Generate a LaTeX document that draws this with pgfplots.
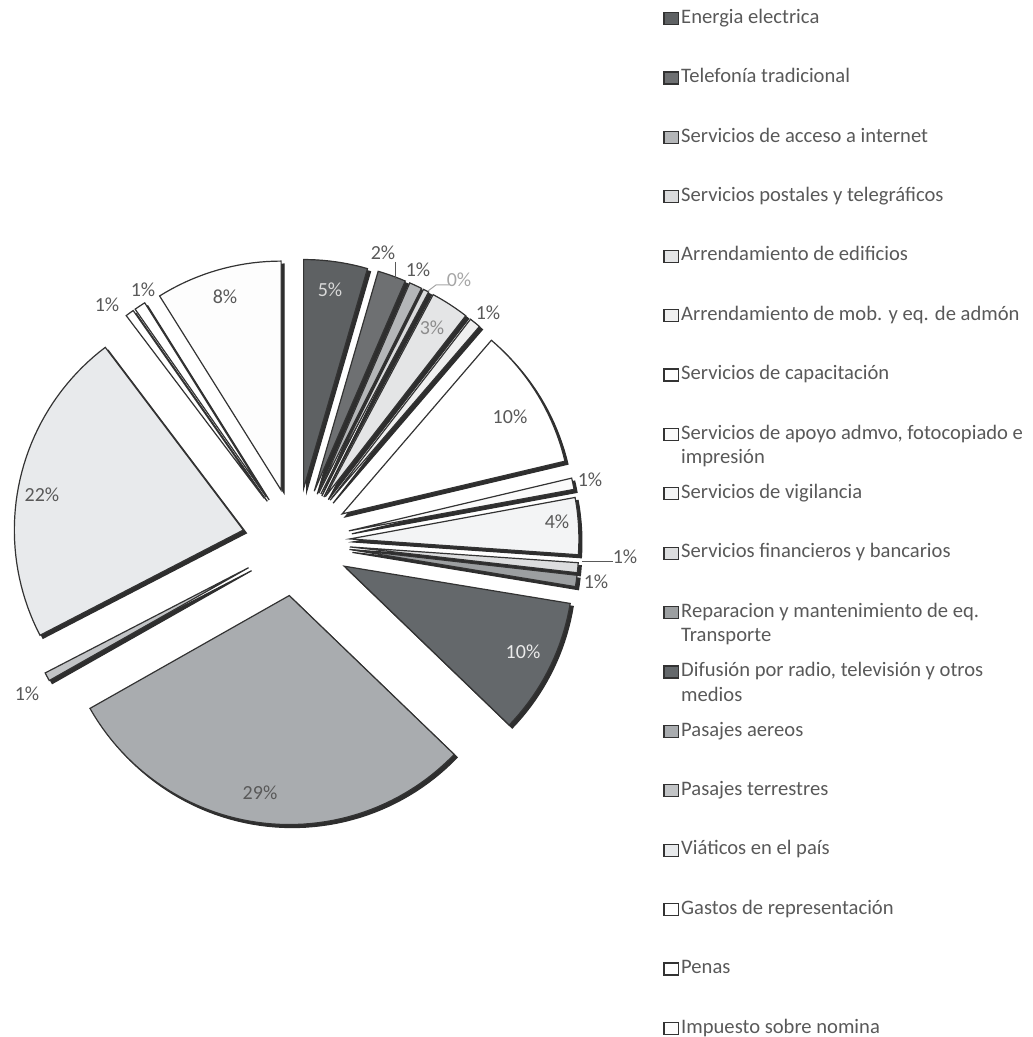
\documentclass[border=0pt]{standalone}
\usepackage{fontspec}
\setmainfont{Carlito}
\usepackage{pgfplots}
\usepackage{pgfplotstable}
\pgfplotsset{compat=1.18}

% share of the circle (per cent), clockwise from 12 o'clock
\pgfplotstableread{
val
4.5
2.0
0.9
0.4
2.7
0.8
10.0
0.8
4.0
0.7
0.8
9.6
29.6
0.6
22.3
0.6
0.8
8.9
}\piedata

\definecolor{txt}{HTML}{595959}
\definecolor{s0}{HTML}{5E6163}
\definecolor{s1}{HTML}{6E7072}
\definecolor{s2}{HTML}{B4B6B8}
\definecolor{s3}{HTML}{DADBDC}
\definecolor{s4}{HTML}{E4E5E6}
\definecolor{s5}{HTML}{F0F0F0}
\definecolor{s6}{HTML}{FFFFFF}
\definecolor{s7}{HTML}{FAFAFA}
\definecolor{s8}{HTML}{F3F4F5}
\definecolor{s9}{HTML}{DCDDDE}
\definecolor{s10}{HTML}{9C9FA1}
\definecolor{s11}{HTML}{64686B}
\definecolor{s12}{HTML}{A9ACAF}
\definecolor{s13}{HTML}{C2C4C6}
\definecolor{s14}{HTML}{E8EAEC}
\definecolor{s15}{HTML}{FFFFFF}
\definecolor{s16}{HTML}{FFFFFF}
\definecolor{s17}{HTML}{FDFDFD}

\pgfplotsset{
  slicestyle/.style={draw=black!80, line width=0.6pt, fill=#1},
}

\begin{document}
\begin{tikzpicture}
\begin{axis}[
  x=0.5pt, y=0.5pt,
  xmin=0, xmax=1032, ymin=0, ymax=1037,
  axis line style={draw=none}, ticks=none, clip=false,
  legend image code/.code={\draw[#1, line width=0.6pt] (0pt,-0.6pt) rectangle (7.3pt,5.4pt);},
  legend cell align=left,
  legend style={
    at={(axis cs:657,1034)}, anchor=north west,
    draw=none, fill=none, text=txt,
    font=\fontsize{10.3}{12.2}\selectfont,
    row sep=5.7pt,
    /tikz/column sep=0pt,
    nodes={text height=7pt, text depth=15pt, inner sep=1pt, anchor=base west},
  },
  legend entries={
    Energia electrica,
    Telefonía tradicional,
    Servicios de acceso a internet,
    Servicios postales y telegráficos,
    Arrendamiento de edificios,
    Arrendamiento de mob. y eq. de admón,
    Servicios de capacitación,
    {\vtop{\hbox{Servicios de apoyo admvo, fotocopiado e}\hbox{impresión}}},
    Servicios de vigilancia,
    Servicios financieros y bancarios,
    {\vtop{\hbox{Reparacion y mantenimiento de eq.}\hbox{Transporte}}},
    {\vtop{\hbox{Difusión por radio, televisión y otros}\hbox{medios}}},
    Pasajes aereos,
    Pasajes terrestres,
    Viáticos en el país,
    Gastos de representación,
    Penas,
    Impuesto sobre nomina},
]
% shadows (3-D edge), drawn first
\pgfmathsetmacro\cum{0}
\pgfplotsforeachungrouped \i in {0,...,17}{
  \pgfplotstablegetelem{\i}{val}\of\piedata
  \let\v\pgfplotsretval
  \pgfmathsetmacro\a{\cum*3.6}
  \pgfmathsetmacro\b{(\cum+\v)*3.6}
  \pgfmathsetmacro\m{(\a+\b)/2}
  \pgfmathsetmacro\ax{296+54*sin(\m)+3}
  \pgfmathsetmacro\ay{495+54*cos(\m)-3}
  \pgfmathtruncatemacro\ns{max(3,(\b-\a)/2+3)}
  \pgfmathsetmacro\cum{\cum+\v}
  \edef\tmp{\noexpand\addplot[forget plot, fill=black!82, draw=black!82, line width=0.6pt, domain=\a:\b, samples=\ns]
    ({\ax+229*sin(x)},{\ay+229*cos(x)}) -- (axis cs:\ax,\ay) -- cycle;}
  \tmp
}
% slices
\pgfmathsetmacro\cum{0}
\pgfplotsforeachungrouped \i in {0,...,17}{
  \pgfplotstablegetelem{\i}{val}\of\piedata
  \let\v\pgfplotsretval
  \pgfmathsetmacro\a{\cum*3.6}
  \pgfmathsetmacro\b{(\cum+\v)*3.6}
  \pgfmathsetmacro\m{(\a+\b)/2}
  \pgfmathsetmacro\ax{296+54*sin(\m)}
  \pgfmathsetmacro\ay{495+54*cos(\m)}
  \pgfmathtruncatemacro\ns{max(3,(\b-\a)/2+3)}
  \pgfmathsetmacro\cum{\cum+\v}
  \edef\tmp{\noexpand\addplot[slicestyle=s\i, domain=\a:\b, samples=\ns]
    ({\ax+229*sin(x)},{\ay+229*cos(x)}) -- (axis cs:\ax,\ay) -- cycle;}
  \tmp
}
% data labels
\tikzset{lbl/.style={font=\fontsize{10}{12}\selectfont, text=txt, inner sep=0pt}}
\node[lbl, text=black!15] at (axis cs:330,747) {5\%};
\node[lbl] at (axis cs:383,784) {2\%};
\draw[txt, line width=0.5pt] (axis cs:395,775) -- (axis cs:395,758);
\node[lbl] at (axis cs:418,767) {1\%};
\node[lbl, text=black!35] at (axis cs:459,757) {0\%};
\draw[black!35, line width=0.5pt] (axis cs:428,746) -- (axis cs:436,752) -- (axis cs:449,752);
\node[lbl, text=black!45] at (axis cs:432,709) {3\%};
\node[lbl] at (axis cs:488,724) {1\%};
\node[lbl] at (axis cs:510,620) {10\%};
\node[lbl] at (axis cs:590,557) {1\%};
\node[lbl] at (axis cs:557,515) {4\%};
\node[lbl] at (axis cs:625,480) {1\%};
\draw[txt, line width=0.5pt] (axis cs:582,475) -- (axis cs:613,475);
\node[lbl] at (axis cs:596,455) {1\%};
\node[lbl, text=black!8] at (axis cs:523,385) {10\%};
\node[lbl] at (axis cs:260,244) {29\%};
\node[lbl] at (axis cs:27,343) {1\%};
\node[lbl] at (axis cs:42,542) {22\%};
\node[lbl] at (axis cs:107,732) {1\%};
\node[lbl] at (axis cs:143,747) {1\%};
\node[lbl] at (axis cs:225,740) {8\%};
\end{axis}
\pgfresetboundingbox
\useasboundingbox (0,0) rectangle (516pt,518.5pt);
\end{tikzpicture}
\end{document}
